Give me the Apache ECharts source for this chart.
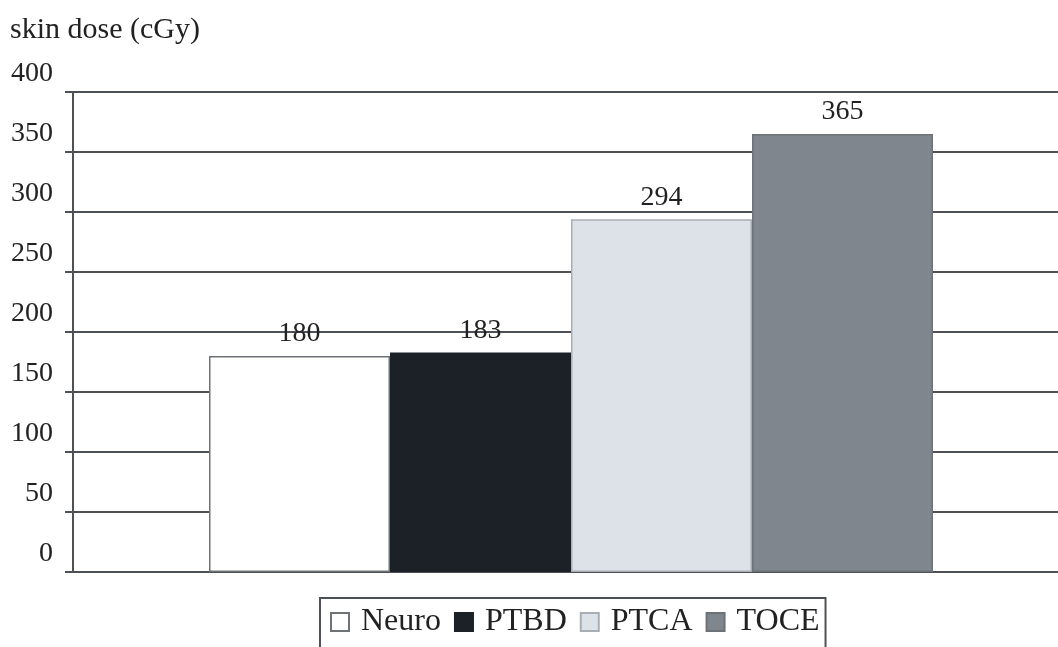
<!DOCTYPE html>
<html>
<head>
<meta charset="utf-8">
<title>Skin dose by procedure</title>
<script src="https://cdn.jsdelivr.net/npm/echarts@6/dist/echarts.min.js"></script>
<style>
  html, body { margin: 0; padding: 0; background: #ffffff; }
  #chart { width: 1058px; height: 647px; }
</style>
</head>
<body>
<div id="chart"></div>
<script>
// Mean skin dose per procedure type (cGy)
const procedures = ['Neuro', 'PTBD', 'PTCA', 'TOCE'];
const skinDose = [180, 183, 294, 365];
const barColors = ['#ffffff', '#1c2128', '#dde2e8', '#80868d'];
const barBorders = ['#6f7378', '#1c2128', '#a9aeb4', '#6d7278'];

const axisTitle = 'skin dose (cGy)';
const yMin = 0, yMax = 400, yStep = 50;

const serif = "'Liberation Serif', 'Times New Roman', 'DejaVu Serif', serif";
const ink = '#222222';
const lineInk = '#4d5156';

const chart = echarts.init(document.getElementById('chart'), null, { renderer: 'canvas' });

const series = procedures.map((name, i) => ({
  name: name,
  type: 'bar',
  data: [skinDose[i]],
  barWidth: 181,
  barGap: '0%',
  itemStyle: {
    color: barColors[i],
    borderColor: barBorders[i],
    borderWidth: 1.5
  },
  label: {
    show: true,
    position: 'top',
    distance: 8,
    fontFamily: serif,
    fontSize: 28,
    color: ink
  }
}));

chart.setOption({
  animation: false,
  backgroundColor: '#ffffff',
  title: {
    text: axisTitle,
    left: 5,
    top: 10,
    textStyle: { fontFamily: serif, fontSize: 30, fontWeight: 'normal', color: ink }
  },
  // plot area runs a little past the right edge of the canvas
  grid: { left: 73, top: 92, bottom: 75, right: -11, containLabel: false, outerBoundsMode: 'none' },
  legend: {
    data: procedures,
    left: 320,
    top: 598,
    orient: 'horizontal',
    itemWidth: 18,
    itemHeight: 18,
    itemGap: 13,
    icon: 'rect',
    padding: [8, 6, 40, 10],
    borderColor: lineInk,
    borderWidth: 2,
    textStyle: { fontFamily: serif, fontSize: 32, color: ink, padding: [0, 0, 0, 7] }
  },
  xAxis: {
    type: 'category',
    data: [''],
    axisLine: { show: true, lineStyle: { color: lineInk, width: 2 } },
    axisTick: { show: false },
    axisLabel: { show: false },
    splitLine: { show: false }
  },
  yAxis: {
    type: 'value',
    min: yMin,
    max: yMax,
    interval: yStep,
    axisLine: { show: true, lineStyle: { color: lineInk, width: 2 } },
    axisTick: { show: true, length: 8, inside: false, lineStyle: { color: lineInk, width: 2 } },
    axisLabel: {
      margin: 20,
      fontFamily: serif,
      fontSize: 28,
      color: ink,
      verticalAlign: 'bottom',
      lineHeight: 26,
      padding: [0, 0, 5, 0]
    },
    splitLine: { show: true, lineStyle: { color: lineInk, width: 2 } }
  },
  series: series
});
</script>
</body>
</html>
